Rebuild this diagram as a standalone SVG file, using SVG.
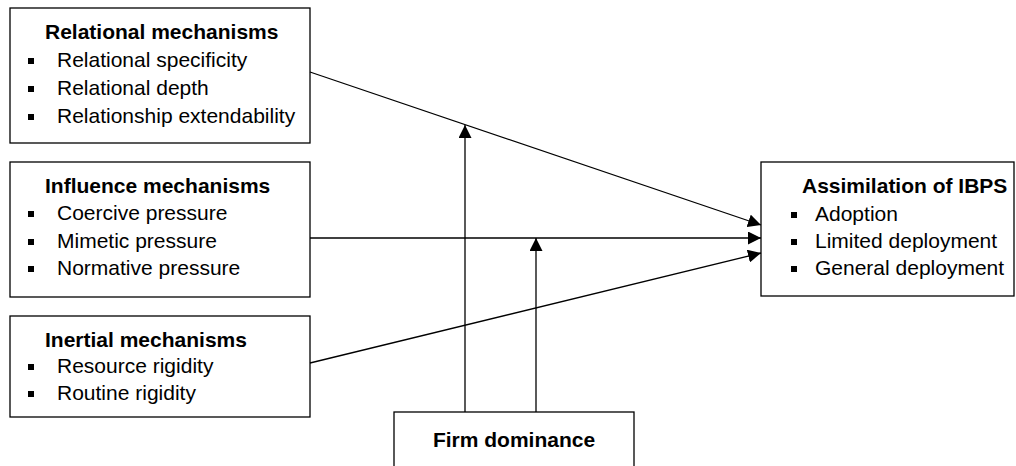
<svg xmlns="http://www.w3.org/2000/svg" width="1016" height="466" viewBox="0 0 1016 466">
<defs>
<style>
.box{fill:#fff;stroke:#000;stroke-width:1.3}
.t{font-family:"Liberation Sans",Arial,sans-serif;font-size:21px;fill:#000}
.b{font-weight:bold}
.bl{fill:#000}
.c{stroke:#000;stroke-width:1.3;fill:none}
</style>
<marker id="ah" viewBox="0 0 10 10" refX="10" refY="5" markerWidth="13" markerHeight="13" markerUnits="userSpaceOnUse" orient="auto">
<path d="M0,0 L10,5 L0,10 z" fill="#000"/>
</marker>
</defs>
<rect width="1016" height="466" fill="#fff"/>
<g id="relational">
<rect class="box" x="10" y="8" width="300" height="135"/>
<text class="t b" x="45" y="39">Relational mechanisms</text>
<rect class="bl" x="28" y="58" width="6" height="6"/><text class="t" x="57" y="67">Relational specificity</text>
<rect class="bl" x="28" y="86" width="6" height="6"/><text class="t" x="57" y="95">Relational depth</text>
<rect class="bl" x="28" y="114" width="6" height="6"/><text class="t" x="57" y="123">Relationship extendability</text>
</g>
<g id="influence">
<rect class="box" x="10" y="162" width="300" height="135"/>
<text class="t b" x="45" y="193">Influence mechanisms</text>
<rect class="bl" x="28" y="211" width="6" height="6"/><text class="t" x="57" y="220">Coercive pressure</text>
<rect class="bl" x="28" y="239" width="6" height="6"/><text class="t" x="57" y="248">Mimetic pressure</text>
<rect class="bl" x="28" y="266" width="6" height="6"/><text class="t" x="57" y="275">Normative pressure</text>
</g>
<g id="inertial">
<rect class="box" x="10" y="316" width="300" height="101"/>
<text class="t b" x="45" y="347">Inertial mechanisms</text>
<rect class="bl" x="28" y="364" width="6" height="6"/><text class="t" x="57" y="373">Resource rigidity</text>
<rect class="bl" x="28" y="391" width="6" height="6"/><text class="t" x="57" y="400">Routine rigidity</text>
</g>
<g id="assimilation">
<rect class="box" x="761" y="162" width="253" height="134"/>
<text class="t b" x="802" y="193">Assimilation of IBPS</text>
<rect class="bl" x="791" y="212" width="6" height="6"/><text class="t" x="815" y="221">Adoption</text>
<rect class="bl" x="791" y="239" width="6" height="6"/><text class="t" x="815" y="248">Limited deployment</text>
<rect class="bl" x="791" y="266" width="6" height="6"/><text class="t" x="815" y="275">General deployment</text>
</g>
<g id="firm">
<rect class="box" x="394" y="412" width="240" height="60"/>
<text class="t b" x="514" y="447" text-anchor="middle">Firm dominance</text>
</g>
<g id="connectors">
<line class="c" x1="310" y1="72" x2="761" y2="225" marker-end="url(#ah)"/>
<line class="c" x1="310" y1="238" x2="761" y2="238" marker-end="url(#ah)"/>
<line class="c" x1="310" y1="363" x2="761" y2="253" marker-end="url(#ah)"/>
<line class="c" x1="465" y1="412" x2="465" y2="125" marker-end="url(#ah)"/>
<line class="c" x1="536" y1="412" x2="536" y2="238" marker-end="url(#ah)"/>
</g>
</svg>
